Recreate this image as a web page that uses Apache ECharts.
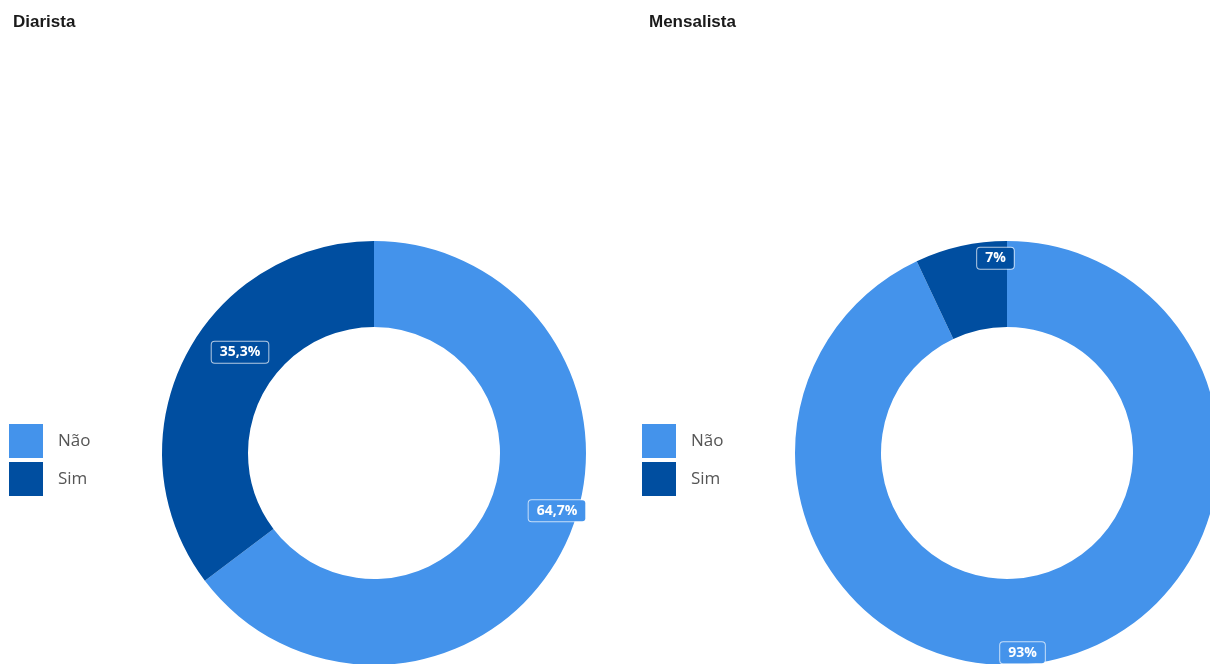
<!DOCTYPE html>
<html>
<head>
<meta charset="utf-8">
<script src="https://cdn.jsdelivr.net/npm/echarts@6/dist/echarts.min.js"></script>
<style>
  html, body { margin: 0; padding: 0; background: #fff; }
  #chart { width: 1210px; height: 664px; }
</style>
</head>
<body>
<div id="chart"></div>
<script>
const categories = ['Não', 'Sim'];
const diarista = [64.7, 35.3];
const mensalista = [93, 7];
const titles = ['Diarista', 'Mensalista'];

const colors = ['#4493EB', '#004EA0'];
// nudges so the labels sit like the original
const nudgeLeft = [[29, -19], [20, -24]];
const nudgeRight = [[-22, 32], [26, -27]];

const fmt = (v) => String(v).replace('.', ',') + '%';

function pieSeries(values, center, nudge) {
  return {
    type: 'pie',
    center,
    radius: [126, 212],
    startAngle: 90,
    clockwise: true,
    avoidLabelOverlap: false,
    silent: true,
    itemStyle: { borderWidth: 0 },
    label: {
      show: true,
      position: 'inside',
      formatter: (p) => fmt(p.value),
      color: '#fff',
      fontFamily: 'Open Sans',
      fontWeight: 'bold',
      fontSize: 14,
      backgroundColor: 'inherit',
      borderColor: 'rgba(255,255,255,0.7)',
      borderWidth: 1,
      borderRadius: 3,
      padding: [4, 8, 3, 8],
    },
    labelLine: { show: false },
    labelLayout: (p) => ({ dx: nudge[p.dataIndex][0], dy: nudge[p.dataIndex][1] }),
    data: categories.map((c, i) => ({ name: c, value: values[i] })),
  };
}

const legendBase = {
  orient: 'vertical',
  top: 419,
  itemWidth: 34,
  itemHeight: 34,
  itemGap: 4,
  icon: 'rect',
  selectedMode: false,
  data: categories,
  textStyle: { color: '#555', fontSize: 17, fontFamily: 'Open Sans', padding: [0, 0, 0, 10] },
};

const titleStyle = { fontFamily: 'Liberation Sans', fontWeight: 'bold', fontSize: 17, color: '#1a1a1a' };

const chart = echarts.init(document.getElementById('chart'));
chart.setOption({
  color: colors,
  animation: false,
  title: [
    { text: titles[0], left: 13, top: 14, padding: 0, textStyle: titleStyle },
    { text: titles[1], left: 649, top: 14, padding: 0, textStyle: titleStyle },
  ],
  legend: [
    Object.assign({}, legendBase, { left: 4 }),
    Object.assign({}, legendBase, { left: 637 }),
  ],
  series: [
    pieSeries(diarista, [374, 453], nudgeLeft),
    pieSeries(mensalista, [1007, 453], nudgeRight),
  ],
});
</script>
</body>
</html>
